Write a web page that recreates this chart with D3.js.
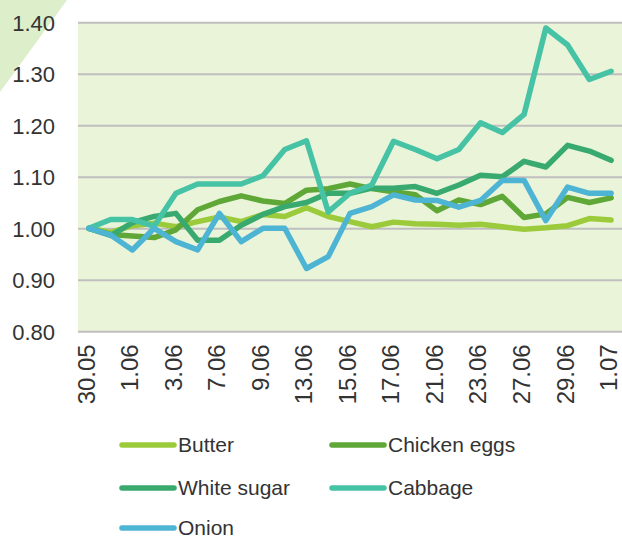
<!DOCTYPE html>
<html>
<head>
<meta charset="utf-8">
<script src="https://cdn.jsdelivr.net/npm/d3@7"></script>
<style>
  html, body { margin: 0; padding: 0; background: #ffffff; }
  svg { display: block; font-family: "Liberation Sans", Arial, sans-serif; }
</style>
</head>
<body>
<svg id="chart" width="622" height="540"></svg>
<script>
// Trading days, 30 May – 1 July
const dates = ["30.05","31.05","1.06","2.06","3.06","6.06","7.06","8.06","9.06","10.06",
  "13.06","14.06","15.06","16.06","17.06","20.06","21.06","22.06","23.06","24.06",
  "27.06","28.06","29.06","30.06","1.07"];

// Price index relative to 30.05
const butter = [1.00, 0.992, 1.005, 1.01, 1.003, 1.013, 1.022, 1.013, 1.027, 1.023,
  1.04, 1.023, 1.013, 1.003, 1.012, 1.009, 1.008, 1.006, 1.008, 1.003,
  0.998, 1.001, 1.005, 1.019, 1.016];
const chickenEggs = [1.00, 0.988, 0.985, 0.982, 0.997, 1.036, 1.052, 1.063, 1.053, 1.048,
  1.074, 1.077, 1.086, 1.077, 1.071, 1.065, 1.034, 1.055, 1.046, 1.062,
  1.021, 1.028, 1.060, 1.050, 1.059];
const whiteSugar = [1.00, 0.986, 1.011, 1.023, 1.029, 0.977, 0.977, 1.006, 1.027, 1.042,
  1.050, 1.068, 1.068, 1.078, 1.078, 1.081, 1.068, 1.084, 1.103, 1.100,
  1.130, 1.119, 1.161, 1.150, 1.132];
const cabbage = [1.00, 1.017, 1.017, 1.004, 1.068, 1.086, 1.086, 1.086, 1.102, 1.153,
  1.170, 1.032, 1.068, 1.084, 1.169, 1.153, 1.135, 1.153, 1.205, 1.186,
  1.221, 1.389, 1.356, 1.289, 1.305];
const onion = [1.00, 0.987, 0.958, 1.00, 0.974, 0.958, 1.029, 0.974, 1.00, 1.00,
  0.922, 0.945, 1.029, 1.042, 1.065, 1.055, 1.054, 1.041, 1.054, 1.093,
  1.093, 1.015, 1.080, 1.068, 1.068];

const seriesNames = ["Butter", "Chicken eggs", "White sugar", "Cabbage", "Onion"];
const seriesValues = [butter, chickenEggs, whiteSugar, cabbage, onion];
const seriesColors = ["#9bcb3b", "#5fa737", "#38a96f", "#46c2a5", "#4db4d4"];

const yTicks = [0.80, 0.90, 1.00, 1.10, 1.20, 1.30, 1.40];
const xTickLabels = dates.filter((d, i) => i % 2 === 0);

const svg = d3.select("#chart");
const plot = { left: 78, right: 622, top: 22.3, bottom: 331.3 };

const x = d3.scalePoint().domain(dates).range([plot.left, plot.right]).padding(0.5);
const y = d3.scaleLinear().domain([0.80, 1.40]).range([plot.bottom, plot.top]);

// decorative corner wedge
svg.append("path")
  .attr("d", "M0,0 L67,0 L0,92 Z")
  .attr("fill", "#ddeecb");

// plot background
svg.append("rect")
  .attr("x", plot.left).attr("y", plot.top)
  .attr("width", plot.right - plot.left).attr("height", plot.bottom - plot.top)
  .attr("fill", "#eaf4d9");

// horizontal gridlines + y labels
const yAxis = d3.axisLeft(y).tickValues(yTicks).tickFormat(d3.format(".2f"))
  .tickSize(-(plot.right - plot.left)).tickPadding(23);
const yg = svg.append("g").attr("transform", `translate(${plot.left},0)`).call(yAxis);
yg.select(".domain").remove();
yg.selectAll(".tick line").attr("stroke", "#bfbfbf").attr("stroke-width", 2);
yg.selectAll(".tick text").attr("fill", "#333333").style("font-size", "22px")
  .attr("dy", "0.35em");

// x labels (rotated)
const xAxis = d3.axisBottom(x).tickValues(xTickLabels).tickSize(0).tickPadding(0);
const xg = svg.append("g").attr("transform", `translate(0,${plot.bottom})`).call(xAxis);
xg.select(".domain").remove();
xg.selectAll(".tick text")
  .attr("fill", "#333333").style("font-size", "24px")
  .attr("text-anchor", "end")
  .attr("transform", "translate(-3,13) rotate(-90)")
  .attr("x", 0).attr("y", 0).attr("dy", "0.35em");

// series lines
const line = d3.line().x((d, i) => x(dates[i])).y(d => y(d));
seriesValues.forEach((vals, k) => {
  svg.append("path")
    .datum(vals)
    .attr("d", line)
    .attr("fill", "none")
    .attr("stroke", seriesColors[k])
    .attr("stroke-width", 5.5)
    .attr("stroke-linejoin", "round")
    .attr("stroke-linecap", "round");
});

// legend
const legendPos = [[120, 445], [330, 445], [120, 488], [330, 488], [120, 528]];
seriesNames.forEach((name, k) => {
  const [lx, ly] = legendPos[k];
  const g = svg.append("g").attr("transform", `translate(${lx},${ly})`);
  g.append("line").attr("x1", 2).attr("x2", 54).attr("y1", 0).attr("y2", 0)
    .attr("stroke", seriesColors[k]).attr("stroke-width", 5.5).attr("stroke-linecap", "round");
  g.append("text").attr("x", 58).attr("y", 0).attr("dy", "0.35em")
    .attr("fill", "#333333").style("font-size", "21px").text(name);
});
</script>
</body>
</html>
